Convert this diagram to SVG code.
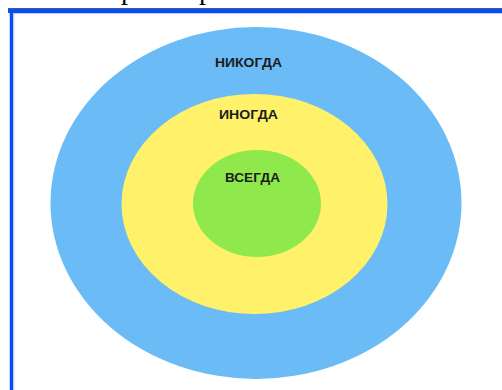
<svg xmlns="http://www.w3.org/2000/svg" width="502" height="390" viewBox="0 0 502 390">
<style>
.lbl{font-family:"Liberation Sans",Arial,sans-serif;font-weight:bold;font-size:13px;fill:#1c1c1c;text-anchor:middle}
.top{font-family:"Liberation Serif","Times New Roman",serif;font-size:28px;fill:#000}
</style>
<rect width="502" height="390" fill="#fff"/>
<text class="top" x="121" y="-1">р</text>
<text class="top" x="199" y="-1">р</text>
<g id="frame">
<line x1="8" y1="8.5" x2="502" y2="8.5" stroke="#3d5a95" stroke-width="1"/>
<line x1="8" y1="11" x2="502" y2="11" stroke="#0a4cf5" stroke-width="4"/>
<line x1="11.5" y1="9" x2="11.5" y2="390" stroke="#0a4cf5" stroke-width="3.5"/>
<line x1="14" y1="13.5" x2="502" y2="13.5" stroke="#b9cdf9" stroke-width="1"/>
<line x1="13.8" y1="13" x2="13.8" y2="390" stroke="#b9cdf9" stroke-width="1"/>
</g>
<g id="never">
<ellipse cx="256" cy="203" rx="205.5" ry="176" fill="#6abbf6"/>
<text class="lbl" x="248.5" y="67" textLength="67" lengthAdjust="spacingAndGlyphs">НИКОГДА</text>
</g>
<g id="sometimes">
<ellipse cx="254.5" cy="204" rx="133" ry="110" fill="#fff16a"/>
<text class="lbl" x="248.5" y="119" textLength="59" lengthAdjust="spacingAndGlyphs">ИНОГДА</text>
</g>
<g id="always">
<ellipse cx="257" cy="203.5" rx="64" ry="53.5" fill="#8fe94d"/>
<text class="lbl" x="252.5" y="182" textLength="55" lengthAdjust="spacingAndGlyphs">ВСЕГДА</text>
</g>
<g id="connectors"/>
</svg>
